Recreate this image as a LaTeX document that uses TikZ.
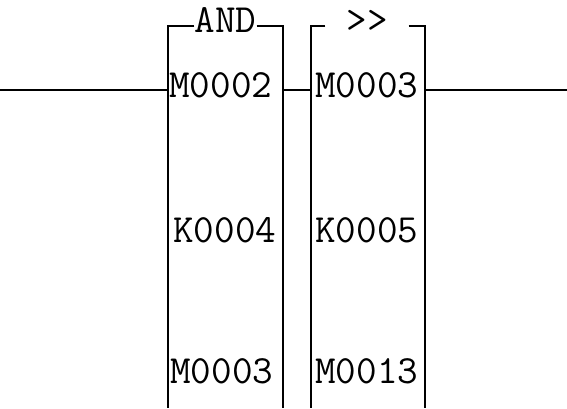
\documentclass[tikz,border=0pt]{standalone}
\usepackage{fontspec}
\usepackage{tikz}
\usetikzlibrary{positioning}
\tikzset{
    operand/.style={font=\ttfamily\fontsize{40}{40}\selectfont, inner sep=0pt, anchor=base west},
    title/.style={font=\ttfamily\fontsize{40}{40}\selectfont, inner sep=0pt, anchor=base},
    block/.style={line width=1.1pt, black},
    rung/.style={line width=1.1pt, black}
}

\begin{document}
\begin{tikzpicture}[x=1pt, y=-1pt]
    \useasboundingbox[fill=white] (0,0) rectangle (567,408);

    % Block corners
    \coordinate (andnw) at (168,26);
    \coordinate (andne) at (283,26);
    \coordinate (andsw) at (168,408);
    \coordinate (andse) at (283,408);
    \coordinate (shrnw) at (311,26);
    \coordinate (shrne) at (425,26);
    \coordinate (shrsw) at (311,408);
    \coordinate (shrse) at (425,408);

    % Block titles
    \node[title] (andtitle) at (225.5,32) {AND};
    \node[title, minimum width=83pt] (shrtitle) at (367,32) {>>};

    % AND block
    \draw[block] (andtitle.west |- andnw) -- (andnw) -- (andsw);
    \draw[block] (andtitle.east |- andne) -- (andne) -- (andse);
    \node[operand] (and1) at (169,97) {M0002};
    \node[operand] (and2) at (173,242) {K0004};
    \node[operand] (and3) at (170,383) {M0003};

    % Shift block
    \draw[block] (shrtitle.west |- shrnw) -- (shrnw) -- (shrsw);
    \draw[block] (shrtitle.east |- shrne) -- (shrne) -- (shrse);
    \node[operand] (shr1) at (315,97) {M0003};
    \node[operand] (shr2) at (315,242) {K0005};
    \node[operand] (shr3) at (315,383) {M0013};

    % Rung
    \coordinate (raill) at (0,90);
    \coordinate (railr) at (567,90);
    \draw[rung] (raill) -- (raill -| andnw);
    \draw[rung] (raill -| andne) -- (raill -| shrnw);
    \draw[rung] (raill -| shrne) -- (railr);
\end{tikzpicture}
\end{document}
